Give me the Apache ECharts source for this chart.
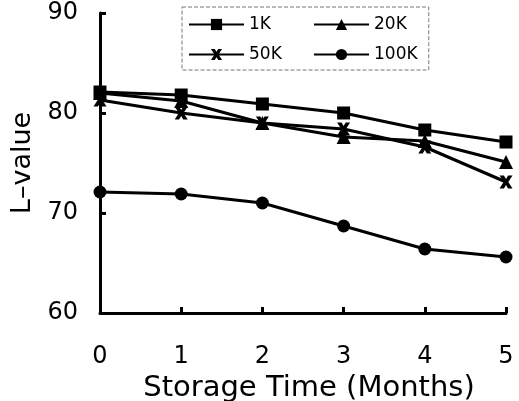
<!DOCTYPE html>
<html>
<head>
<meta charset="utf-8">
<script src="https://cdn.jsdelivr.net/npm/echarts@6/dist/echarts.min.js"></script>
<style>
  html, body { margin: 0; padding: 0; background: #fff; }
  #chart { width: 519px; height: 401px; }
</style>
</head>
<body>
<div id="chart"></div>
<script>
var months = ['0', '1', '2', '3', '4', '5'];
var legendLeftCol = ['1K', '50K'];
var legendRightCol = ['20K', '100K'];
var val1K   = [82.1, 81.8, 80.9, 80.0, 78.3, 77.1];
var val20K  = [82.0, 81.2, 79.0, 77.6, 77.2, 75.1];
var val50K  = [81.3, 80.0, 79.0, 78.4, 76.6, 73.1];
var val100K = [72.1, 71.9, 71.0, 68.7, 66.4, 65.6];
var yTicks = [60, 70, 80, 90];

// bold "X" marker like the printed one
var crossMark = 'path://M0,0 L3.4,0 L5,2.6 L6.6,0 L10,0 L6.8,5 L10,10 L6.6,10 L5,7.4 L3.4,10 L0,10 L3.2,5 Z';

function makeLine(name, data, symbol, size) {
    return {
        name: name,
        type: 'line',
        data: data,
        symbol: symbol,
        symbolSize: size,
        showAllSymbol: true,
        lineStyle: { color: '#000', width: 3 },
        itemStyle: { color: '#000' }
    };
}

function makeLegend(names, left, extra) {
    var lg = {
        data: names,
        orient: 'vertical',
        left: left,
        top: 7,
        padding: [9, 6, 7, 6],
        itemWidth: 55,
        itemHeight: 14,
        itemGap: 13,
        textStyle: { fontSize: 17, color: '#000', fontFamily: 'DejaVu Sans' }
    };
    for (var k in extra) lg[k] = extra[k];
    return lg;
}

var chart = echarts.init(document.getElementById('chart'));

var option = {
    backgroundColor: '#fff',
    animation: false,
    textStyle: { fontFamily: 'DejaVu Sans', color: '#000' },
    grid: { left: 100, right: 13, top: 13, bottom: 88, outerBoundsMode: 'none' },
    legend: [
        // the left column carries the dashed frame round both columns
        makeLegend(legendLeftCol, 182, {
            padding: [9, 147, 7, 6],
            borderColor: '#777',
            borderWidth: 1,
            borderType: 'dashed'
        }),
        makeLegend(legendRightCol, 307, {})
    ],
    xAxis: {
        type: 'category',
        data: months,
        boundaryGap: false,
        name: 'Storage Time (Months)',
        nameLocation: 'middle',
        nameGap: 55,
        nameTextStyle: { fontSize: 29, color: '#000', padding: [0, 0, 0, 12] },
        axisLine: { lineStyle: { color: '#000', width: 3 } },
        axisTick: { inside: true, length: 6, lineStyle: { color: '#000', width: 3 } },
        axisLabel: { fontSize: 24, color: '#000', margin: 32 },
        splitLine: { show: false }
    },
    yAxis: {
        type: 'value',
        min: yTicks[0],
        max: yTicks[yTicks.length - 1],
        interval: 10,
        name: 'L–value',
        nameLocation: 'middle',
        nameGap: 61,
        nameTextStyle: { fontSize: 27, color: '#000' },
        axisLine: { show: true, lineStyle: { color: '#000', width: 3 } },
        axisTick: { show: true, inside: true, length: 6, lineStyle: { color: '#000', width: 3 } },
        axisLabel: { fontSize: 24, color: '#000', margin: 22 },
        splitLine: { show: false }
    },
    series: [
        makeLine('1K', val1K, 'rect', 13),
        makeLine('20K', val20K, 'triangle', 14),
        makeLine('50K', val50K, crossMark, 13),
        makeLine('100K', val100K, 'circle', 13)
    ]
};

chart.setOption(option);
</script>
</body>
</html>
